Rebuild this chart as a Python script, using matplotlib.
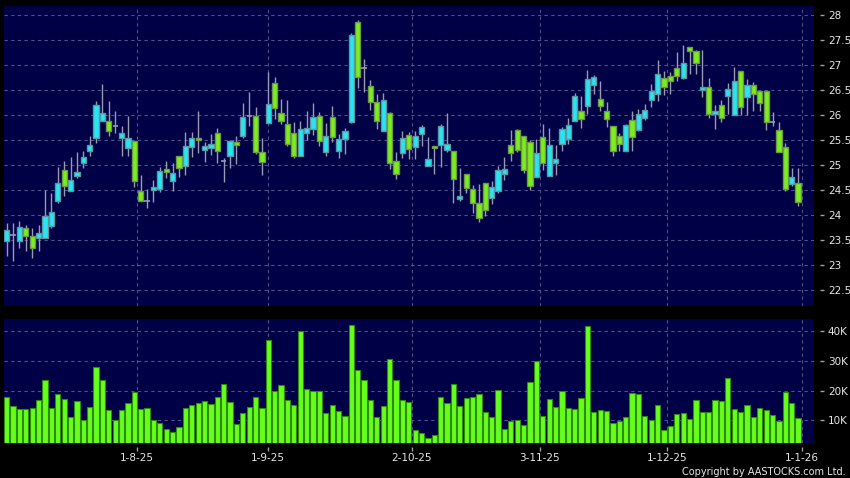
import matplotlib
matplotlib.use("Agg")
from matplotlib import pyplot as plt
from matplotlib.ticker import FuncFormatter

# daily candles, one per trading day (index 0..124)
opens = [
    23.49, 23.60, 23.49, 23.75, 23.59, 23.55, 23.55, 23.79, 24.29, 24.89,
    24.49, 24.79, 25.05, 25.29, 25.55, 25.89, 25.89, 25.79, 25.55, 25.35,
    25.49, 24.49, 24.29, 24.51, 24.53, 24.93, 24.69, 25.17, 24.99, 25.37,
    25.55, 25.31, 25.35, 25.65, 25.09, 25.19, 25.47, 25.59, 25.98, 25.99,
    25.27, 25.85, 26.63, 26.03, 25.83, 25.65, 25.19, 25.65, 25.73, 25.99,
    25.27, 25.97, 25.29, 25.53, 25.87, 27.85, 26.95, 26.57, 26.27, 25.69,
    26.05, 25.07, 25.25, 25.59, 25.37, 25.63, 24.99, 25.39, 25.41, 25.31,
    25.29, 24.33, 24.83, 24.51, 24.23, 24.65, 24.35, 24.49, 24.83, 25.39,
    25.69, 25.59, 25.47, 24.77, 25.57, 24.79, 25.05, 25.43, 25.53, 25.89,
    26.09, 26.19, 26.61, 26.33, 26.07, 25.79, 25.57, 25.29, 25.89, 25.71,
    25.95, 26.31, 26.43, 26.75, 26.79, 26.93, 26.75, 27.35, 27.29, 26.51,
    26.57, 26.03, 26.19, 26.39, 26.01, 26.89, 26.37, 26.61, 26.49, 26.49,
    25.86, 25.69, 25.37, 24.63, 24.65,
]
highs = [
    23.85, 23.85, 23.89, 23.80, 23.75, 23.80, 24.50, 24.45, 24.96, 25.09,
    25.16, 25.26, 25.29, 25.59, 26.29, 26.63, 26.29, 26.09, 25.79, 25.99,
    25.49, 24.80, 24.53, 24.70, 24.96, 25.08, 25.04, 25.17, 25.66, 25.66,
    26.08, 25.46, 25.63, 25.74, 25.15, 25.50, 25.59, 26.24, 26.46, 26.17,
    25.54, 26.86, 26.77, 26.32, 26.30, 25.87, 25.89, 26.09, 26.25, 26.07,
    25.85, 26.19, 25.63, 25.75, 27.65, 27.91, 27.13, 26.71, 26.43, 26.45,
    26.07, 25.27, 25.69, 25.67, 25.69, 25.80, 25.57, 25.39, 25.83, 26.04,
    25.29, 24.94, 24.83, 24.61, 24.62, 24.65, 24.69, 24.99, 25.16, 25.71,
    25.73, 25.59, 25.51, 25.53, 25.83, 25.75, 25.41, 25.77, 25.95, 26.45,
    26.39, 26.91, 26.81, 26.69, 26.27, 25.79, 25.65, 25.83, 26.09, 26.13,
    26.23, 26.63, 27.11, 26.89, 26.87, 27.26, 27.41, 27.35, 27.31, 27.31,
    26.75, 26.21, 26.31, 26.65, 26.97, 26.89, 26.73, 26.67, 26.49, 26.49,
    26.07, 25.87, 25.45, 24.95, 24.95,
]
lows = [
    23.19, 23.09, 23.35, 23.29, 23.15, 23.29, 23.55, 23.75, 24.25, 24.39,
    24.49, 24.75, 24.95, 25.19, 25.45, 25.89, 25.59, 25.65, 25.19, 25.19,
    24.56, 24.29, 24.15, 24.26, 24.46, 24.74, 24.49, 24.77, 24.81, 25.17,
    25.25, 25.07, 25.20, 25.04, 24.67, 24.95, 25.02, 25.55, 25.78, 25.23,
    24.81, 25.85, 25.93, 25.83, 25.39, 25.15, 25.19, 25.51, 25.61, 25.39,
    25.19, 25.47, 25.15, 25.23, 25.85, 26.55, 26.47, 26.11, 25.73, 25.69,
    24.93, 24.73, 25.15, 25.13, 25.13, 25.38, 24.99, 24.83, 24.97, 25.27,
    24.25, 24.29, 24.45, 24.05, 23.87, 23.99, 24.23, 24.45, 24.71, 25.09,
    25.27, 24.85, 24.51, 24.77, 24.91, 24.79, 24.81, 25.29, 25.43, 25.89,
    25.75, 26.03, 26.43, 26.09, 25.77, 25.19, 25.29, 25.29, 25.29, 25.69,
    25.91, 26.17, 26.29, 26.41, 26.43, 26.69, 26.73, 26.83, 26.83, 26.37,
    25.95, 25.73, 25.87, 26.03, 26.01, 26.01, 26.01, 26.09, 26.09, 25.71,
    25.79, 25.27, 24.49, 24.59, 24.19,
]
closes = [
    23.69, 23.60, 23.75, 23.59, 23.35, 23.65, 23.99, 24.05, 24.65, 24.59,
    24.69, 24.85, 25.16, 25.39, 26.19, 26.03, 25.69, 25.79, 25.65, 25.55,
    24.69, 24.29, 24.29, 24.56, 24.89, 24.87, 24.85, 24.95, 25.37, 25.55,
    25.51, 25.37, 25.43, 25.29, 25.09, 25.48, 25.41, 25.97, 25.98, 25.27,
    25.07, 26.23, 26.15, 25.89, 25.43, 25.19, 25.73, 25.73, 25.97, 25.49,
    25.57, 25.57, 25.51, 25.67, 27.61, 26.77, 26.95, 26.27, 25.89, 26.31,
    25.05, 24.83, 25.53, 25.33, 25.59, 25.75, 25.11, 25.35, 25.79, 25.41,
    24.73, 24.37, 24.55, 24.25, 23.95, 24.11, 24.57, 24.89, 24.91, 25.25,
    25.31, 24.91, 24.59, 25.23, 25.05, 25.39, 25.13, 25.71, 25.81, 26.39,
    25.93, 26.73, 26.77, 26.19, 25.93, 25.29, 25.43, 25.81, 25.57, 26.01,
    26.11, 26.49, 26.83, 26.57, 26.69, 26.79, 27.03, 27.29, 27.05, 26.57,
    26.03, 26.09, 25.95, 26.51, 26.69, 26.17, 26.61, 26.43, 26.25, 25.87,
    25.86, 25.27, 24.53, 24.75, 24.27,
]
# volume in thousands of shares
volumes_k = [
    18.0, 14.9, 13.9, 13.7, 14.3, 17.0, 23.6, 14.2, 18.8, 17.3,
    11.2, 16.6, 10.0, 14.5, 27.9, 23.6, 13.6, 10.1, 13.6, 15.7,
    19.5, 13.9, 14.3, 10.0, 9.2, 7.2, 6.3, 7.8, 14.3, 15.1,
    15.9, 16.6, 15.5, 17.9, 22.1, 16.1, 8.8, 12.5, 14.5, 17.8,
    14.2, 36.8, 19.7, 21.7, 16.9, 15.3, 39.8, 20.6, 19.8, 20.0,
    12.6, 15.0, 13.3, 11.6, 41.9, 26.7, 23.6, 16.9, 11.3, 14.9,
    30.7, 23.5, 16.7, 16.1, 6.8, 5.7, 4.2, 5.1, 18.0, 15.9,
    22.2, 14.9, 17.4, 17.9, 18.7, 12.9, 11.0, 20.1, 7.1, 9.7,
    10.1, 8.5, 22.7, 30.0, 11.5, 17.2, 14.6, 19.7, 14.2, 13.9,
    17.6, 41.6, 12.8, 13.6, 13.2, 9.2, 9.7, 11.2, 19.1, 19.0,
    11.6, 10.1, 15.3, 6.8, 8.1, 12.3, 12.6, 10.6, 16.7, 12.8,
    12.9, 16.9, 16.5, 24.3, 13.8, 12.8, 15.0, 11.3, 14.1, 13.5,
    11.9, 9.8, 19.6, 15.7, 10.8,
]
date_labels = ["1-8-25", "1-9-25", "2-10-25", "3-11-25", "1-12-25", "1-1-26"]
date_ticks = [20.4, 40.9, 63.5, 83.5, 103.5, 124.6]
price_ticks = [22.5, 23, 23.5, 24, 24.5, 25, 25.5, 26, 26.5, 27, 27.5, 28]
volume_ticks = [10, 20, 30, 40]

NAVY = "#000046"
GRID = "#50508a"
UP = "#27e6f2"
UP_EDGE = "#5a97a3"
DOWN = "#7ded1f"
DOWN_EDGE = "#6b9a45"
WICK = "#9a9aae"
TEXT = "#e6e6e6"

fig = plt.figure(figsize=(8.5, 4.78), dpi=100, facecolor="black")
ax_p = fig.add_axes([3.5 / 850, 1 - 306 / 478, 810.5 / 850, 300 / 478])
ax_v = fig.add_axes([3.5 / 850, 1 - 443 / 478, 810.5 / 850, 124 / 478])


def style_axes(ax):
    ax.set_facecolor(NAVY)
    for side in ("left", "top", "bottom", "right"):
        ax.spines[side].set_visible(False)
    ax.spines["right"].set_position(("outward", 4))
    ax.spines["bottom"].set_position(("outward", 3))
    ax.yaxis.tick_right()
    ax.tick_params(axis="y", colors="#a0a0a0", labelcolor=TEXT, length=3,
                   width=1, pad=3, labelsize=7.5)
    ax.tick_params(axis="x", colors="#a0a0a0", labelcolor=TEXT, length=3,
                   width=1, pad=1.5, labelsize=7.5)
    ax.set_xlim(-0.5, 126.5)
    ax.set_xticks(date_ticks)
    ax.grid(True, color=GRID, linestyle=(0, (3, 3)), linewidth=0.8)
    ax.set_axisbelow(True)


style_axes(ax_p)
style_axes(ax_v)

# candles
idx = list(range(len(opens)))
ax_p.vlines(idx, lows, highs, color=WICK, linewidth=1, zorder=2)
for i in idx:
    o, c = opens[i], closes[i]
    if abs(c - o) < 0.005:
        ax_p.hlines(o, i - 0.42, i + 0.42, color=WICK, linewidth=1.2, zorder=3)
        continue
    up = c > o
    ax_p.bar(i, abs(c - o), bottom=min(o, c), width=0.82,
             color=UP if up else DOWN, edgecolor=UP_EDGE if up else DOWN_EDGE,
             linewidth=1, zorder=3)

ax_p.set_ylim(22.18, 28.18)
ax_p.set_yticks(price_ticks)
ax_p.yaxis.set_major_formatter(FuncFormatter(lambda v, _: f"{v:g}"))
ax_p.tick_params(axis="x", length=0, labelbottom=False)

# volume
ax_v.bar(idx, volumes_k, width=0.82, color="#66ff1c", edgecolor="#2f8a0c",
         linewidth=0.8, zorder=3)
ax_v.set_ylim(2.47, 43.9)
ax_v.set_yticks(volume_ticks)
ax_v.yaxis.set_major_formatter(FuncFormatter(lambda v, _: f"{v:.0f}K"))
ax_v.set_xticklabels(date_labels)

fig.text(846 / 850, 1 - 477 / 478, "Copyright by AASTOCKS.com Ltd.",
         ha="right", va="bottom", color=TEXT, fontsize=7)

fig.savefig("out.png", dpi=100, facecolor="black")
